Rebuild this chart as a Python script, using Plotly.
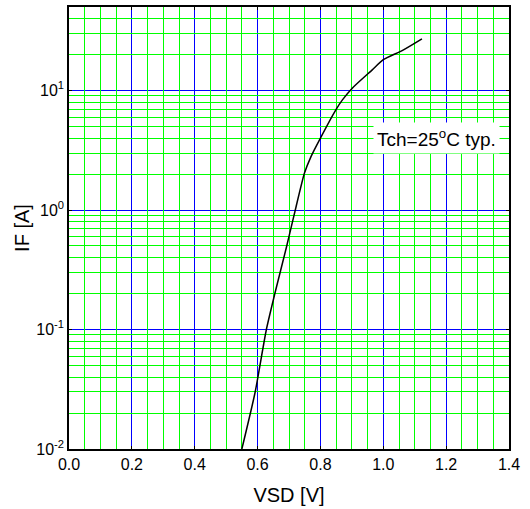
import plotly.graph_objects as go
import math

# Forward characteristic of the body diode
vsd = [0.55, 0.592, 0.628, 0.655, 0.692, 0.72, 0.749, 0.77, 0.80, 0.849, 0.87, 0.902, 0.965, 1.00, 1.06, 1.123]
i_f = [0.01, 0.0297, 0.10, 0.20, 0.49, 1.00, 2.03, 2.8, 4.0, 6.9, 8.35, 10.5, 14.9, 18.1, 21.6, 27.1]

x_ticks = [0.0, 0.2, 0.4, 0.6, 0.8, 1.0, 1.2, 1.4]
x_labels = ["0.0", "0.2", "0.4", "0.6", "0.8", "1.0", "1.2", "1.4"]
x_minor = [round(k * 0.05, 2) for k in range(1, 28) if k % 4 != 0]
y_ticks = [0.01, 0.1, 1, 10]
y_labels = ["10<sup>-2</sup>", "10<sup>-1</sup>", "10<sup>0</sup>", "10<sup>1</sup>"]
y_minor = [round(m * d, 4) for d in (0.01, 0.1, 1, 10) for m in range(2, 10) if m * d <= 50]

note_text = "Tch=25<sup>o</sup>C typ."
note_x = 1.169
note_y = 4.04

FONT = "Liberation Sans, Arial, sans-serif"
GREEN = "#00ff00"
BLUE = "#0000ff"
X_RANGE = [0, 1.4]
Y_RANGE = [-2, math.log10(50)]

fig = go.Figure()
# invisible copy on the overlay axes so the minor-grid axes are drawn
fig.add_trace(go.Scatter(
    x=vsd, y=i_f, mode="lines", xaxis="x2", yaxis="y2",
    line=dict(color="rgba(0,0,0,0)", width=0),
    showlegend=False, hoverinfo="skip",
))
fig.add_trace(go.Scatter(
    x=vsd, y=i_f, mode="lines",
    line=dict(color="black", width=1.5, shape="spline", smoothing=0.6),
    showlegend=False, hoverinfo="skip",
))

fig.update_layout(
    width=530, height=509,
    margin=dict(l=69, r=21, t=7, b=60),
    paper_bgcolor="white", plot_bgcolor="white",
    font=dict(family=FONT, size=16, color="black"),
    showlegend=False,
    xaxis=dict(
        range=X_RANGE, automargin=False,
        tickmode="array", tickvals=x_ticks, ticktext=x_labels,
        showgrid=True, gridcolor=BLUE, gridwidth=1,
        ticks="inside", ticklen=3, tickcolor="black",
        showline=True, linecolor="black", linewidth=1.5, mirror="ticks",
        zeroline=False,
        title=dict(text="VSD [V]", font=dict(size=20), standoff=16),
        tickfont=dict(size=16),
    ),
    yaxis=dict(
        type="log", range=Y_RANGE, automargin=False,
        tickmode="array", tickvals=y_ticks, ticktext=y_labels,
        showgrid=True, gridcolor=BLUE, gridwidth=1,
        ticks="inside", ticklen=3, tickcolor="black",
        showline=True, linecolor="black", linewidth=1.5, mirror="ticks",
        zeroline=False,
        title=dict(text="IF [A]", font=dict(size=20), standoff=1),
        tickfont=dict(size=16),
    ),
    xaxis2=dict(
        range=X_RANGE, overlaying="x", side="bottom", anchor="y2",
        automargin=False, tickmode="array", tickvals=x_minor,
        showticklabels=False, showgrid=True, gridcolor=GREEN, gridwidth=1,
        ticks="", showline=False, zeroline=False,
    ),
    yaxis2=dict(
        type="log", range=Y_RANGE, overlaying="y", side="left", anchor="x2",
        automargin=False, tickmode="array", tickvals=y_minor,
        showticklabels=False, showgrid=True, gridcolor=GREEN, gridwidth=1,
        ticks="", showline=False, zeroline=False,
    ),
)

fig.add_annotation(
    x=note_x, y=math.log10(note_y), xref="x", yref="y",
    text=note_text, showarrow=False,
    font=dict(size=19, family=FONT, color="black"),
    bgcolor="white", borderpad=3,
    xanchor="center", yanchor="middle",
)

fig.write_html("out.html", config={"displayModeBar": False},
               post_script="document.body.style.margin='0';")
